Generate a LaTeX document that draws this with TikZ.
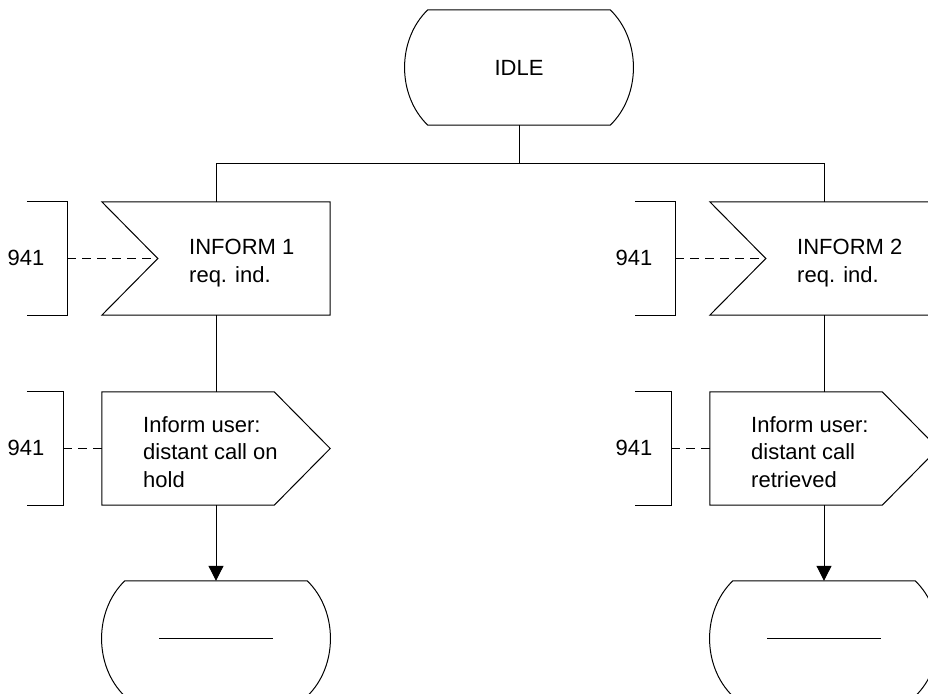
\documentclass[tikz,border=0pt]{standalone}
\usepackage{fontspec}
\setmainfont{Liberation Sans}
\usetikzlibrary{arrows.meta,calc}

\tikzset{
  line/.style={draw=black, line width=1pt},
  box/.style={draw=none, rectangle, inner sep=0pt, minimum width=228pt},
  statebox/.style={box, minimum height=115pt, font=\fontsize{22}{27.5}\selectfont},
  sigbox/.style={box, minimum height=113pt},
  txt/.style={font=\fontsize{22}{27.5}\selectfont, inner sep=0pt, align=left},
  brk/.style={draw=none, rectangle, inner sep=0pt, minimum height=113pt},
  dashline/.style={line, dash pattern=on 9pt off 6pt},
  arr/.style={line, -{Triangle[length=15pt,width=15pt]}},
}

\newcommand\drawstateshape[1]{%
  \draw[line] ($(#1.north west)+(23,0)$) -- ($(#1.north east)+(-23,0)$)
    .. controls ($(#1.north east)+(8,30)$) and ($(#1.south east)+(8,-30)$) .. ($(#1.south east)+(-23,0)$)
    -- ($(#1.south west)+(23,0)$)
    .. controls ($(#1.south west)+(-8,-30)$) and ($(#1.north west)+(-8,30)$) .. cycle;}
\newcommand\drawinshape[1]{%
  \draw[line] (#1.north west) -- (#1.north east) -- (#1.south east) -- (#1.south west)
    -- ($(#1.west)+(56,0)$) -- cycle;}
\newcommand\drawoutshape[1]{%
  \draw[line] (#1.north west) -- ($(#1.north east)+(-56,0)$) -- (#1.east)
    -- ($(#1.south east)+(-56,0)$) -- (#1.south west) -- cycle;}
\newcommand\drawbrk[1]{%
  \draw[line] (#1.north west) -- (#1.north east) -- (#1.south east) -- (#1.south west);}

\begin{document}
\begin{tikzpicture}[x=1pt,y=-1pt]
\useasboundingbox (0,0) rectangle (928,693);
\clip (0,0) rectangle (928,693);

% top state
\node[statebox] (idle) at (519,67.5) {IDLE};
\drawstateshape{idle}
\coordinate (j) at (519,163);

% left column
\node[sigbox] (in1) at (216,258.5) {};
\drawinshape{in1}
\coordinate (in1n) at ($(in1.west)+(56,0)$);
\node[txt, anchor=west] (in1t) at (189,263) {INFORM 1\\req. ind.};
\node[brk, minimum width=40pt] (c1) at (47,258.5) {};
\drawbrk{c1}
\node[txt] (l1) at (26,258) {941};

\node[sigbox] (out1) at (216,448.5) {};
\drawoutshape{out1}
\node[txt, anchor=west] (out1t) at (143,452) {Inform user:\\distant call on\\hold};
\node[brk, minimum width=36pt] (c2) at (45,448.5) {};
\drawbrk{c2}
\node[txt] (l2) at (26,448) {941};

\node[statebox] (st1) at (216,638.5) {};
\drawstateshape{st1}
\draw[line] ($(st1.center)+(-57,0)$) -- ($(st1.center)+(57,0)$);

% right column
\node[sigbox] (in2) at (824,258.5) {};
\drawinshape{in2}
\coordinate (in2n) at ($(in2.west)+(56,0)$);
\node[txt, anchor=west] (in2t) at (797,263) {INFORM 2\\req. ind.};
\node[brk, minimum width=40pt] (c3) at (655,258.5) {};
\drawbrk{c3}
\node[txt] (l3) at (634,258) {941};

\node[sigbox] (out2) at (824,448.5) {};
\drawoutshape{out2}
\node[txt, anchor=west] (out2t) at (751,452) {Inform user:\\distant call\\retrieved};
\node[brk, minimum width=36pt] (c4) at (653,448.5) {};
\drawbrk{c4}
\node[txt] (l4) at (634,448) {941};

\node[statebox] (st2) at (824,638.5) {};
\drawstateshape{st2}
\draw[line] ($(st2.center)+(-57,0)$) -- ($(st2.center)+(57,0)$);

% connectors
\draw[line] (idle.south) -- (j);
\draw[line] (j) -| (in1.north);
\draw[line] (j) -| (in2.north);
\draw[line] (in1.south) -- (out1.north);
\draw[line] (in2.south) -- (out2.north);
\draw[arr] (out1.south) -- (st1.north);
\draw[arr] (out2.south) -- (st2.north);
\draw[dashline] (c1.east) -- (in1n);
\draw[dashline] (c2.east) -- (out1.west);
\draw[dashline] (c3.east) -- (in2n);
\draw[dashline] (c4.east) -- (out2.west);
\end{tikzpicture}
\end{document}
